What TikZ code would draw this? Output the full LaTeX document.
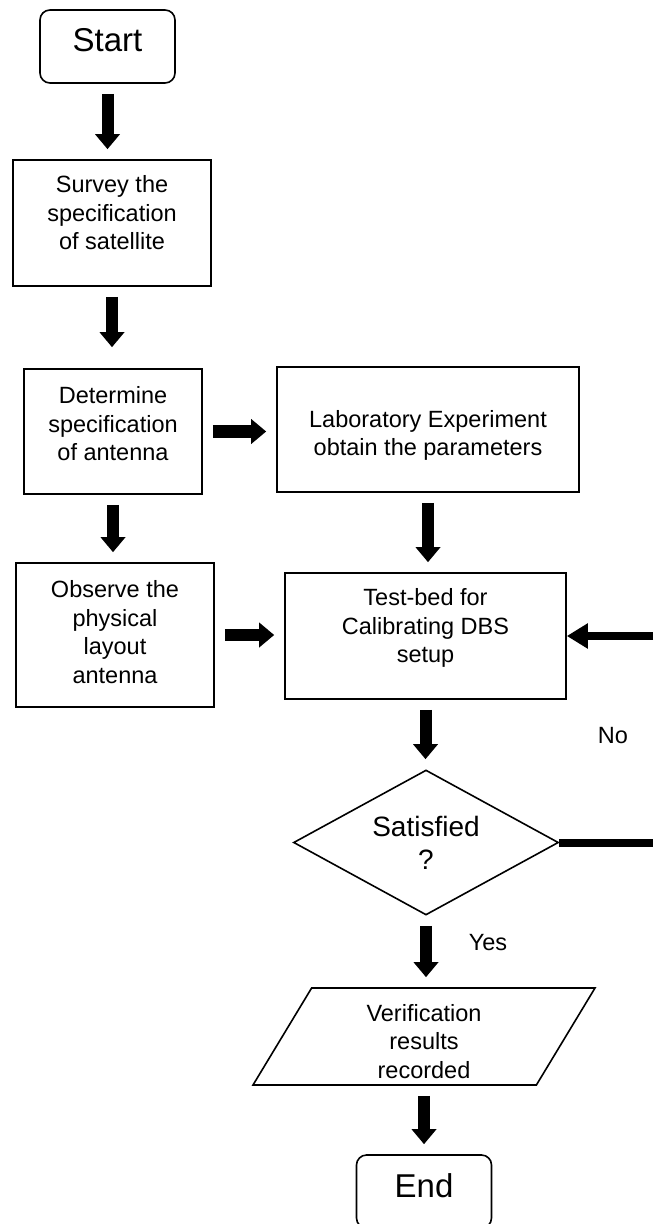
\documentclass[tikz,border=0pt]{standalone}
\usepackage{fontspec}
\setmainfont{Liberation Sans}
\usepackage{tikz}
\usetikzlibrary{shapes.geometric,arrows.meta}

\begin{document}
\begin{tikzpicture}[x=0.5pt,y=-0.5pt,
  box/.style={draw, line width=0.8pt, align=center, inner sep=0pt,
    font=\fontsize{11.75}{14.25}\selectfont},
  term/.style={box, rounded corners=5pt, minimum width=67.5pt, minimum height=36.5pt,
    text height=21pt, text depth=15.5pt, font=\fontsize{16.5}{19}\selectfont},
  flow/.style={line width=6pt, -{Triangle[width=12pt,length=7.5pt]},
    shorten <=5pt, shorten >=5pt},
  back/.style={line width=4pt, -{Triangle[width=12pt,length=10.5pt]}},
  tag/.style={font=\fontsize{11.75}{14.25}\selectfont}]
  \useasboundingbox (0,0) rectangle (653,1224);

  % Draw boxes
  \node [term] (start) at (107.5,46.5) {Start};
  \node [box, minimum width=99pt, minimum height=63pt] (survey) at (112,223)
    {Survey the\\specification\\of satellite\\[-4pt]};
  \node [box, minimum width=89pt, minimum height=62.5pt] (det) at (113,431.5)
    {Determine\\specification\\of antenna\\[-6.25pt]};
  \node [box, minimum width=99pt, minimum height=72pt] (obs) at (115,635)
    {Observe the\\physical\\layout\\antenna\\[-11pt]};
  \node [box, minimum width=151pt, minimum height=62.5pt] (lab) at (428,429.5)
    {\strut\\[-10pt]Laboratory Experiment\\obtain the parameters};
  \node [box, minimum width=140.5pt, minimum height=63pt] (test) at (425.5,636)
    {Test-bed for\\Calibrating DBS\\setup\\[-4pt]};
  \node [box, diamond, aspect=1.83, minimum width=132.5pt, minimum height=72.5pt,
    font=\fontsize{14}{16.5}\selectfont] (sat) at (426,842.5) {Satisfied\\?};
  \node [box, trapezium, trapezium left angle=55, trapezium right angle=125,
    trapezium stretches body, minimum width=171pt, minimum height=48.5pt]
    (verif) at (424,1036.5) {\\[-1pt]Verification\\results\\recorded};
  \node [term] (end) at (424,1191.5) {End};

  % Draw labels
  \node [tag] (no) at (613,736) {No};
  \node [tag] (yes) at (488,943) {Yes};

  % Draw arrows
  \draw [flow] (start.south) -- (start.south |- survey.north);
  \draw [flow, shorten >=10.5pt] (survey.south) -- (survey.south |- det.north);
  \draw [flow] (det.south) -- (det.south |- obs.north);
  \draw [flow] (det.east) -- (det.east -| lab.west);
  \draw [flow] (lab.south) -- (lab.south |- test.north);
  \draw [flow] (obs.east) -- (obs.east -| test.west);
  \draw [flow] (test.south) -- (test.south |- sat.north);
  \draw [flow] (sat.south) -- (sat.south |- verif.north);
  \draw [flow] (verif.south) -- (verif.south |- end.north);

  % Draw loop back
  \coordinate (edge1) at (653,842.5);
  \coordinate (edge2) at (653,636);
  \draw [line width=4pt] (sat.east) -- (edge1);
  \draw [back] (edge2) -- (test.east);
\end{tikzpicture}
\end{document}
